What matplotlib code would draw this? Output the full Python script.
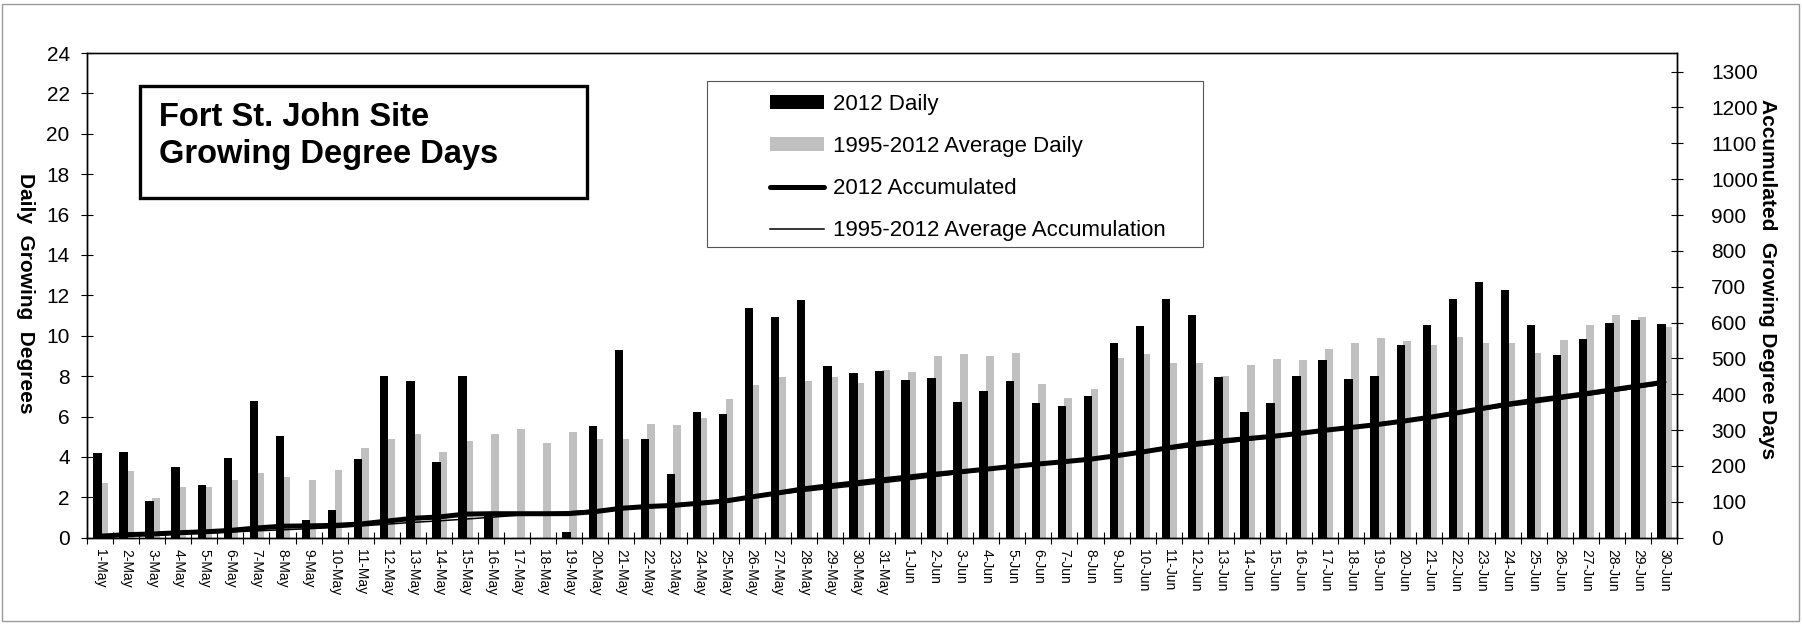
import matplotlib
matplotlib.use("Agg")
import matplotlib.pyplot as plt
from matplotlib.patches import Rectangle, Patch
from matplotlib.lines import Line2D
import numpy as np

plt.rcParams['font.family'] = ['Liberation Sans', 'DejaVu Sans']

# data
days = [f"{d}-May" for d in range(1, 32)] + [f"{d}-Jun" for d in range(1, 31)]
daily_2012 = [4.21, 4.26, 1.80, 3.52, 2.60, 3.95, 6.76, 5.04, 0.88, 1.36,
              3.92, 8.00, 7.77, 3.77, 8.00, 1.10, 0.00, 0.00, 0.28, 5.54,
              9.31, 4.88, 3.14, 6.23, 6.12, 11.37, 10.93, 11.75, 8.50, 8.15,
              8.25, 7.80, 7.93, 6.71, 7.27, 7.77, 6.68, 6.53, 7.01, 9.62,
              10.50, 11.80, 11.04, 7.95, 6.23, 6.68, 8.00, 8.79, 7.88, 8.03,
              9.54, 10.51, 11.81, 12.67, 12.26, 10.55, 9.06, 9.82, 10.61, 10.79,
              10.56]
avg_daily = [2.71, 3.31, 1.97, 2.51, 2.51, 2.86, 3.21, 3.01, 2.86, 3.36,
             4.45, 4.89, 5.14, 4.25, 4.79, 5.14, 5.39, 4.69, 5.24, 4.89,
             4.89, 5.64, 5.59, 5.93, 6.88, 7.57, 7.95, 7.77, 7.95, 7.67,
             8.31, 8.21, 9.00, 9.10, 9.00, 9.16, 7.62, 6.93, 7.37, 8.91,
             9.10, 8.66, 8.66, 8.00, 8.55, 8.84, 8.79, 9.34, 9.64, 9.88,
             9.74, 9.54, 9.93, 9.64, 9.64, 9.14, 9.79, 10.55, 11.02, 10.93,
             10.43]
acc_2012 = [4.2, 8.5, 10.3, 13.8, 16.4, 20.3, 27.1, 32.1, 33.0, 34.4,
            38.3, 46.3, 54.1, 57.8, 65.8, 66.9, 66.9, 66.9, 67.2, 72.8,
            82.1, 87.0, 90.1, 96.3, 102.4, 113.8, 124.7, 136.5, 145.0, 153.1,
            161.4, 169.2, 177.1, 183.8, 191.1, 198.9, 205.6, 212.1, 219.1, 228.7,
            239.2, 251.0, 262.1, 270.0, 276.2, 282.9, 290.9, 299.7, 307.6, 315.6,
            325.2, 335.7, 347.5, 360.1, 372.4, 383.0, 392.0, 401.8, 412.4, 423.2,
            433.8]
acc_avg = [2.7, 6.0, 8.0, 10.5, 13.0, 15.9, 19.1, 22.1, 25.0, 28.3,
           32.8, 37.7, 42.8, 47.0, 51.8, 57.0, 62.4, 67.1, 72.3, 77.2,
           82.1, 87.7, 93.3, 99.2, 106.1, 113.7, 121.6, 129.4, 137.4, 145.0,
           153.3, 161.5, 170.5, 179.6, 188.6, 197.8, 205.4, 212.4, 219.7, 228.6,
           237.7, 246.4, 255.1, 263.1, 271.6, 280.4, 289.2, 298.6, 308.2, 318.1,
           327.8, 337.4, 347.3, 356.9, 366.6, 375.7, 385.5, 396.1, 407.1, 418.0,
           428.4]
labels = ["2012 Daily", "1995-2012 Average Daily", "2012 Accumulated",
          "1995-2012 Average Accumulation"]

W, H = 1802, 625
fig = plt.figure(figsize=(W / 100, H / 100), dpi=100)

# figure border
fig.add_artist(Rectangle((2 / W, 1 - 621 / H), 1797 / W, 617 / H, transform=fig.transFigure,
                         fill=False, edgecolor='#9a9a9a', lw=1))

ax1 = fig.add_axes([87 / W, 1 - 537.7 / H, 1590 / W, 484.7 / H])
ax2 = ax1.twinx()

x = np.arange(len(days))
ax1.bar(x, avg_daily, width=0.30, align='edge', color='#c0c0c0', zorder=2)
ax1.bar(x - 0.26, daily_2012, width=0.325, align='edge', color='black', zorder=3)

ax2.plot(x, acc_2012, color='black', lw=3.6, solid_capstyle='round')
ax2.plot(x, acc_avg, color='black', lw=1.1)

ax1.set_xlim(-0.5, len(days) - 0.5)
ax1.set_ylim(0, 24)
ax1.set_yticks(np.arange(0, 25, 2))
ax2.set_ylim(0, 1352)
ax2.set_yticks(np.arange(0, 1301, 100))

ax1.set_xticks(x)
ax1.set_xticklabels(days, rotation=270, fontsize=10)
ax1.set_xticks(np.arange(-0.5, len(days), 1), minor=True)
ax1.tick_params(axis='x', which='major', length=0, pad=8)
ax1.tick_params(axis='x', which='minor', length=8, direction='inout', width=0.8)
ax1.tick_params(axis='y', length=9, direction='inout', labelsize=15, pad=8, width=0.8)
ax2.tick_params(axis='y', length=9, direction='inout', labelsize=15, pad=20, width=0.8)

for ax in (ax1, ax2):
    for s in ax.spines.values():
        s.set_linewidth(1.0)
        s.set_color('black')
ax1.spines['top'].set_color('#444444')

fig.text(25 / W, 1 - 293 / H, "Daily  Growing  Degrees", rotation=270, fontsize=15,
         fontweight='bold', ha='center', va='center')
fig.text(1768 / W, 1 - 279 / H, "Accumulated  Growing Degree Days", rotation=270,
         fontsize=15, fontweight='bold', ha='center', va='center')

# title box
fig.add_artist(Rectangle((140 / W, 1 - 198 / H), 447 / W, 112 / H, transform=fig.transFigure,
                         fill=False, edgecolor='black', lw=2.4))
fig.text(159 / W, 1 - 126 / H, "Fort St. John Site", fontsize=23.5, fontweight='bold',
         ha='left', va='baseline')
fig.text(159 / W, 1 - 163 / H, "Growing Degree Days", fontsize=23.5, fontweight='bold',
         ha='left', va='baseline')

# legend
fig.add_artist(Rectangle((707 / W, 1 - 247 / H), 496 / W, 166 / H, transform=fig.transFigure,
                         fill=False, edgecolor='#555555', lw=0.8))
handles = [Patch(facecolor='black'), Patch(facecolor='#c0c0c0'),
           Line2D([], [], color='black', lw=3.6, solid_capstyle='round'),
           Line2D([], [], color='black', lw=1.1)]
fig.legend(handles, labels, loc='upper left', bbox_to_anchor=(770 / W, 1 - 94 / H),
           frameon=False, fontsize=16, borderpad=0, borderaxespad=0,
           handlelength=2.45, handletextpad=0.4, labelspacing=0.95, handleheight=0.6)

fig.savefig('out.png', dpi=100)
